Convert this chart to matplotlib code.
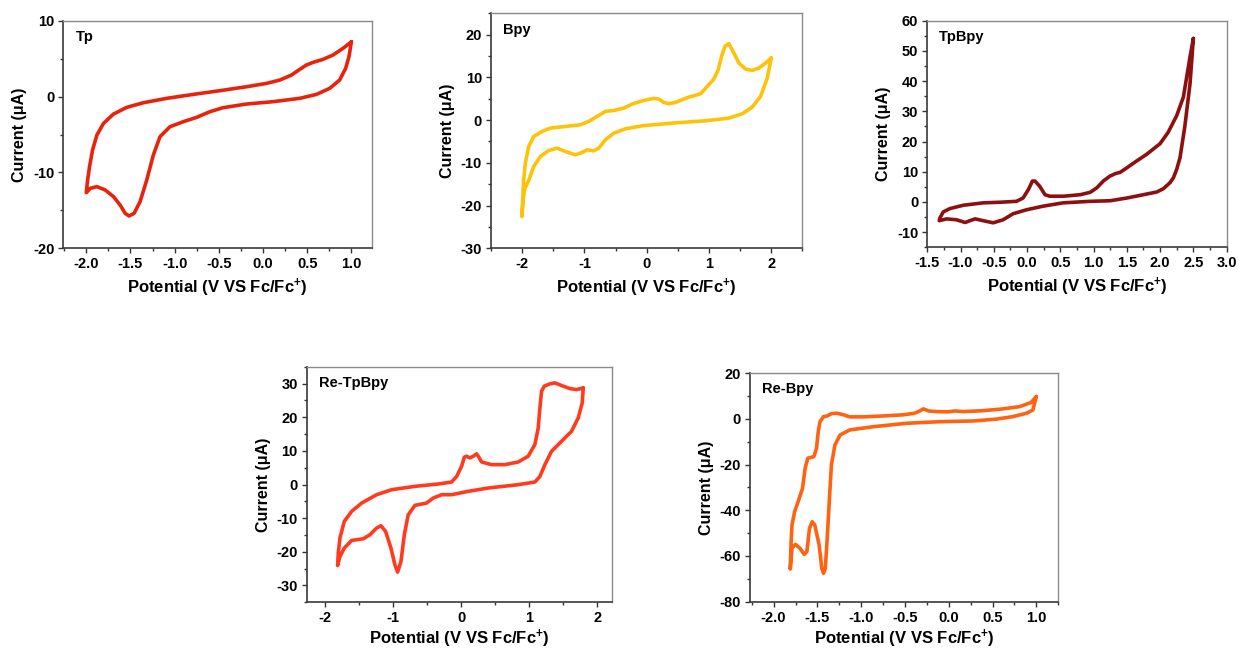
import matplotlib
matplotlib.use("Agg")
import matplotlib.pyplot as plt
from matplotlib.ticker import MultipleLocator, FuncFormatter

plt.rcParams['font.family'] = ['Liberation Sans', 'DejaVu Sans']
plt.rcParams['font.weight'] = 'bold'
plt.rcParams['mathtext.fontset'] = 'custom'
plt.rcParams['mathtext.rm'] = 'Liberation Sans:bold'
plt.rcParams['mathtext.bf'] = 'Liberation Sans:bold'
plt.rcParams['mathtext.default'] = 'rm'

# ---- Tp ----
tp_v = [1.000, 0.905, 0.792, 0.679, 0.566, 0.491, 0.416, 0.322, 0.190, 0.039, -0.187, -0.488,
        -0.789, -1.090, -1.354, -1.542, -1.692, -1.805, -1.880, -1.929, -1.963, -1.985, -2.000,
        -1.955, -1.880, -1.786, -1.692, -1.617, -1.560, -1.515, -1.459, -1.391, -1.316, -1.241,
        -1.166, -1.053, -0.902, -0.752, -0.601, -0.451, -0.187, 0.114, 0.416, 0.604, 0.754,
        0.867, 0.935, 0.973, 1.000]
tp_i = [7.23, 6.36, 5.48, 4.91, 4.51, 4.16, 3.59, 2.84, 2.18, 1.74, 1.30, 0.78,
        0.29, -0.23, -0.81, -1.42, -2.30, -3.53, -5.07, -7.04, -9.24, -11.00, -12.66,
        -12.09, -11.87, -12.31, -13.19, -14.29, -15.39, -15.74, -15.39, -13.85, -11.00, -7.70,
        -5.29, -3.97, -3.31, -2.74, -1.99, -1.46, -0.98, -0.67, -0.23, 0.29, 1.08,
        2.18, 3.72, 5.26, 7.23]

# ---- Bpy ----
bpy_v = [2.000, 1.909, 1.802, 1.695, 1.588, 1.481, 1.400, 1.320, 1.256, 1.202, 1.149, 1.079,
         0.972, 0.865, 0.757, 0.677, 0.570, 0.463, 0.356, 0.275, 0.195, 0.114, 0.007, -0.100,
         -0.234, -0.368, -0.529, -0.663, -0.797, -0.931, -1.065, -1.306, -1.547, -1.681,
         -1.815, -1.895, -1.949, -1.976, -1.992, -2.002,
         -1.987, -1.955, -1.890, -1.815, -1.708, -1.574, -1.440, -1.306, -1.146, -1.038,
         -0.958, -0.851, -0.770, -0.663, -0.529, -0.341, -0.073, 0.409, 0.945, 1.320, 1.534,
         1.695, 1.829, 1.936, 2.000]
bpy_i = [14.53, 13.36, 12.19, 11.64, 11.95, 13.36, 15.70, 17.89, 17.27, 14.92, 11.80, 9.61,
         7.89, 6.17, 5.70, 5.39, 4.77, 4.14, 3.83, 4.14, 4.92, 5.08, 4.77, 4.38,
         3.75, 2.81, 2.26, 2.03, 0.86, -0.31, -1.09, -1.48, -1.87, -2.66,
         -3.83, -6.17, -10.08, -13.98, -18.67, -22.58,
         -18.67, -15.94, -13.98, -10.86, -8.52, -7.11, -6.56, -7.34, -8.12, -7.58,
         -6.95, -7.19, -6.56, -4.61, -3.05, -2.03, -1.33, -0.70, -0.16, 0.47, 1.48,
         3.05, 5.55, 9.84, 14.53]

# ---- TpBpy ----
tpbpy_v = [2.50, 2.45, 2.35, 2.25, 2.12, 2.00, 1.80, 1.65, 1.50, 1.40, 1.33, 1.25, 1.15, 1.05,
           0.95, 0.80, 0.55, 0.34, 0.27, 0.19, 0.12, 0.08, 0.02, -0.06, -0.16, -0.41, -0.66,
           -0.96, -1.16, -1.26, -1.31, -1.32,
           -1.21, -1.06, -0.93, -0.86, -0.78, -0.66, -0.51, -0.36, -0.21, -0.01, 0.24, 0.54,
           0.94, 1.25, 1.50, 1.75, 1.95, 2.05, 2.15, 2.20, 2.25, 2.30, 2.37, 2.45, 2.50]
tpbpy_i = [54.1, 48.0, 34.7, 28.6, 23.0, 19.3, 15.8, 13.6, 11.3, 9.8, 9.4, 8.6, 7.0, 4.7,
           3.2, 2.4, 1.9, 1.9, 2.4, 5.2, 6.9, 6.9, 4.1, 1.3, 0.2, -0.1, -0.3,
           -1.1, -2.2, -3.3, -5.3, -6.2,
           -5.6, -5.9, -6.8, -6.2, -5.6, -6.2, -6.9, -5.9, -3.9, -2.6, -1.4, -0.3,
           0.2, 0.4, 1.3, 2.4, 3.3, 4.4, 6.4, 8.0, 10.8, 14.7, 24.7, 39.1, 54.1]

# ---- Re-TpBpy ----
retpbpy_v = [1.795, 1.697, 1.599, 1.501, 1.378, 1.305, 1.221, 1.182, 1.158, 1.133, 1.084, 0.986,
             0.840, 0.644, 0.448, 0.301, 0.252, 0.228, 0.179, 0.130, 0.081, 0.046, 0.007,
             -0.066, -0.140, -0.336, -0.679, -1.021, -1.242, -1.462, -1.609, -1.717, -1.781,
             -1.805, -1.815,
             -1.781, -1.717, -1.609, -1.438, -1.340, -1.242, -1.178, -1.110, -1.031, -0.973,
             -0.933, -0.884, -0.835, -0.777, -0.679, -0.508, -0.410, -0.287, -0.140, 0.105,
             0.399, 0.840, 1.084, 1.158, 1.231, 1.329, 1.476, 1.623, 1.721, 1.780, 1.795]
retpbpy_i = [28.7, 28.2, 28.5, 29.2, 30.2, 29.9, 29.2, 27.7, 22.8, 16.8, 11.9, 8.4,
             6.7, 5.9, 5.9, 6.7, 8.4, 9.1, 8.4, 7.9, 8.4, 8.1, 5.4,
             2.4, 0.74, 0.15, -0.55, -1.54, -3.03, -5.51, -7.99, -10.96, -15.92,
             -20.38, -24.05,
             -21.4, -18.89, -16.61, -16.12, -14.93, -12.94, -12.25, -13.94, -18.89, -23.85,
             -26.03, -22.86, -14.93, -8.98, -6.20, -5.51, -4.02, -3.03, -3.03, -2.03,
             -1.04, -0.05, 0.74, 2.4, 5.9, 9.87, 12.84, 15.82, 19.79, 24.25, 28.7]

# ---- Re-Bpy ----
rebpy_v = [1.00, 0.94, 0.81, 0.62, 0.39, 0.16, 0.07, -0.01, -0.14, -0.23, -0.29, -0.33, -0.39,
           -0.52, -0.75, -0.97, -1.13, -1.20, -1.28, -1.34, -1.39, -1.43, -1.47, -1.49, -1.51,
           -1.54, -1.58, -1.61, -1.64, -1.67, -1.72, -1.76, -1.79, -1.80, -1.81,
           -1.79, -1.75, -1.70, -1.65, -1.62, -1.59, -1.56, -1.53, -1.48, -1.45, -1.43, -1.41,
           -1.39, -1.36, -1.34, -1.30, -1.24, -1.13, -0.86, -0.48, -0.10, 0.28, 0.54, 0.73,
           0.89, 0.96, 1.00]
rebpy_i = [9.8, 7.2, 5.4, 4.4, 3.6, 3.2, 3.5, 3.1, 3.2, 3.5, 4.4, 3.5, 2.5,
           1.8, 1.3, 0.9, 0.9, 1.8, 2.5, 2.3, 1.3, 1.0, -1.2, -5.5, -12.8,
           -16.5, -16.9, -17.2, -21.6, -30.4, -36.2, -40.6, -46.4, -53.7, -65.7,
           -56.6, -54.9, -56.6, -59.3, -58.1, -47.9, -45.0, -46.4, -55.2, -65.4, -67.6, -65.4,
           -53.7, -33.3, -20.1, -11.4, -7.0, -4.8, -3.4, -1.9, -1.2, -0.9, -0.1, 1.0,
           2.5, 3.9, 9.8]

xlabel = r'Potential (V VS Fc/Fc$^{+}$)'
ylabel = 'Current (μA)'

fig = plt.figure(figsize=(12.39, 6.48), dpi=100)


def fmt_factory(pattern):
    def f(x, pos):
        if abs(x) < 1e-9:
            x = 0.0
        return pattern.format(x)
    return FuncFormatter(f)


def panel(rect, v, i, color, name, xlim, ylim, xmaj, xmin, ymaj, ymin, xfmt, xpad=4):
    ax = fig.add_axes(rect)
    ax.plot(v, i, color=color, lw=2.6, solid_joinstyle='round', solid_capstyle='round')
    ax.set_xlim(*xlim)
    ax.set_ylim(*ylim)
    ax.xaxis.set_major_locator(MultipleLocator(xmaj))
    ax.xaxis.set_minor_locator(MultipleLocator(xmin))
    ax.yaxis.set_major_locator(MultipleLocator(ymaj))
    ax.yaxis.set_minor_locator(MultipleLocator(ymin))
    ax.xaxis.set_major_formatter(fmt_factory(xfmt))
    ax.yaxis.set_major_formatter(fmt_factory('{:.0f}'))
    ax.tick_params(which='both', direction='out', top=False, right=False,
                   labelsize=10.5, width=1, color='#333333', pad=3)
    ax.tick_params(which='major', length=3.5)
    ax.tick_params(which='minor', length=2)
    for lab in ax.get_xticklabels() + ax.get_yticklabels():
        lab.set_fontweight('bold')
    for s in ('left', 'bottom'):
        ax.spines[s].set_color('#3a3a3a')
        ax.spines[s].set_linewidth(1.2)
    for s in ('top', 'right'):
        ax.spines[s].set_color('#8a8a8a')
        ax.spines[s].set_linewidth(1.0)
    ax.set_xlabel(xlabel, fontsize=12, fontweight='bold', labelpad=xpad)
    ax.set_ylabel(ylabel, fontsize=11.5, fontweight='bold', labelpad=4)
    ax.text(0.04, 0.93, name, transform=ax.transAxes, fontsize=10.5,
            fontweight='bold', va='center', ha='left')
    return ax


panel([0.0511, 0.6168, 0.2489, 0.3512], tp_v, tp_i, '#e8230d', 'Tp',
      (-2.26, 1.23), (-20, 10), 0.5, 0.25, 10, 5, '{:.1f}')
panel([0.3963, 0.6168, 0.2513, 0.3627], bpy_v, bpy_i, '#ffc20a', 'Bpy',
      (-2.5, 2.5), (-30, 25), 1, 0.5, 10, 5, '{:.0f}')
panel([0.7484, 0.6184, 0.2416, 0.3497], tpbpy_v, tpbpy_i, '#8e0f0f', 'TpBpy',
      (-1.5, 3.0), (-15, 60), 0.5, 0.25, 10, 5, '{:.1f}')
panel([0.2475, 0.0705, 0.2466, 0.3636], retpbpy_v, retpbpy_i, '#ff3b1f', 'Re-TpBpy',
      (-2.27, 2.22), (-35, 35), 1, 0.5, 10, 5, '{:.0f}', xpad=2)
panel([0.6053, 0.0715, 0.2488, 0.3525], rebpy_v, rebpy_i, '#ff6210', 'Re-Bpy',
      (-2.27, 1.25), (-80, 20), 0.5, 0.25, 20, 10, '{:.1f}', xpad=2)

fig.savefig('out.png', dpi=100)
